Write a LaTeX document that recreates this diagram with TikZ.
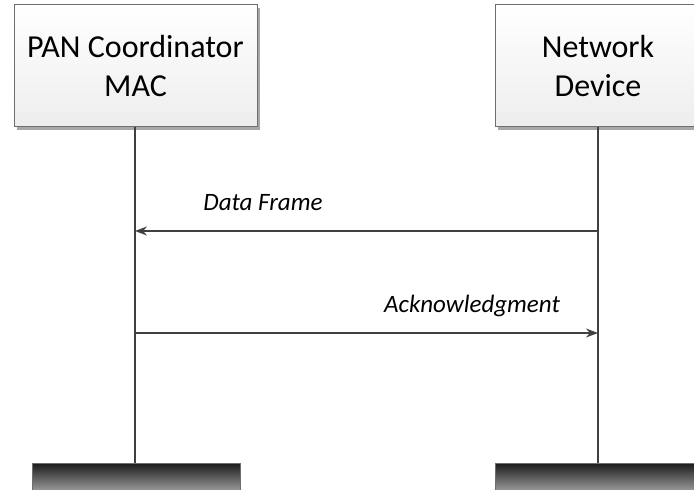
\documentclass[tikz,border=0pt]{standalone}
\usepackage{fontspec}
\setmainfont{Carlito}
\usetikzlibrary{arrows.meta}
\definecolor{edgegray}{HTML}{6E6E6E}
\definecolor{linegray}{HTML}{404040}
\definecolor{shadowgray}{HTML}{A8A8A8}
\tikzset{
  x=1pt, y=1pt,
  actorbox/.style={draw=edgegray, line width=1pt, top color=white, bottom color=black!7},
  actortext/.style={align=center, font=\fontsize{32}{39}\selectfont, text=black},
  shadowbox/.style={fill=shadowgray},
  endbar/.style={draw=edgegray, line width=1pt, top color=black!88, bottom color=black!30},
  lifeline/.style={draw=linegray, line width=1.5pt},
  message/.style={draw=linegray, line width=1.3pt, -{Stealth[length=12pt,width=9pt]}},
  msgtext/.style={font=\fontsize{25}{30}\selectfont\itshape, text=black}
}
\begin{document}
\begin{tikzpicture}
  \useasboundingbox (0,0) rectangle (694,490);
  \clip (0,0) rectangle (694,490);

  % actor heads with drop shadows
  \fill[shadowbox] (17,360) rectangle (260,482);
  \fill[shadowbox] (498,360) rectangle (704,482);
  \draw[actorbox] (14,363) rectangle (257,485);
  \draw[actorbox] (495,363) rectangle (701,485);
  \node[actortext] (pan) at (135.5,424) {PAN Coordinator\\MAC};
  \node[actortext] (dev) at (598,424) {Network\\Device};

  % anchor points of the lifelines
  \coordinate (panTop) at (135,363);
  \coordinate (devTop) at (598,363);
  \coordinate (panBot) at (135,26);
  \coordinate (devBot) at (598,26);
  \coordinate (panMsg1) at (135,259);
  \coordinate (devMsg1) at (598,259);
  \coordinate (panMsg2) at (135,157);
  \coordinate (devMsg2) at (598,157);

  % lifelines
  \draw[lifeline] (panTop) -- (panBot);
  \draw[lifeline] (devTop) -- (devBot);

  % lifeline end bars
  \draw[endbar] (32,-6) rectangle (240,26);
  \draw[endbar] (495,-6) rectangle (701,26);

  % messages
  \draw[message] (devMsg1) -- (panMsg1);
  \node[msgtext] (m1) at (263,287) {Data Frame};
  \draw[message] (panMsg2) -- (devMsg2);
  \node[msgtext] (m2) at (472,184) {Acknowledgment};
\end{tikzpicture}
\end{document}
